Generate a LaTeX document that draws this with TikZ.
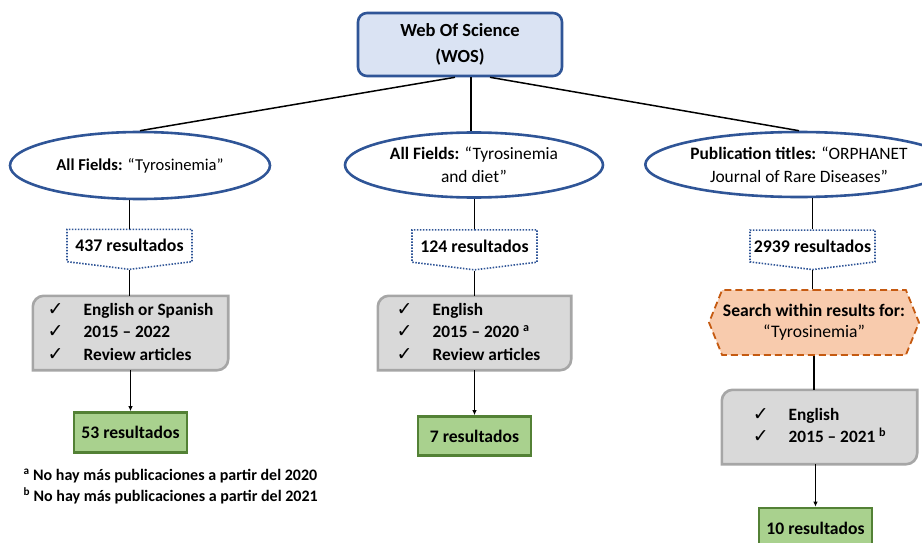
\documentclass[tikz,border=0pt]{standalone}
\usepackage{fontspec}
\setmainfont{Carlito}
\newfontfamily\checkfont{DejaVu Sans}
\usepackage {tikz}
\usetikzlibrary{positioning,shapes.geometric,shapes.symbols,arrows.meta,backgrounds}
\definecolor{wosblue}{HTML}{2F5597}
\definecolor{wosfill}{HTML}{DAE3F3}
\definecolor{grayfill}{HTML}{D9D9D9}
\definecolor{grayline}{HTML}{A6A6A6}
\definecolor{greenfill}{HTML}{A9D18E}
\definecolor{greenline}{HTML}{538135}
\definecolor{orangefill}{HTML}{F8CBAD}
\definecolor{orangeline}{HTML}{C55A11}
\newcommand{\chk}{{\checkfont\mdseries\fontsize{19}{19}\selectfont ✓}}

\begin{document}
\begin{tikzpicture}[x=1pt, y=1pt,
  wosnode/.style={rectangle, rounded corners=9pt, draw=wosblue, fill=wosfill, line width=2.6pt, minimum width=204pt, minimum height=63pt, align=center, font=\fontsize{18.5}{26}\selectfont\bfseries},
  fieldnode/.style={ellipse, draw=wosblue, line width=2.6pt, inner sep=0pt, align=center, font=\fontsize{17.4}{23}\selectfont},
  countnode/.style={signal, signal to=south, signal pointer angle=166, draw=wosblue, dash pattern=on 1.5pt off 1.5pt, line width=1.6pt, inner sep=0pt, minimum width=125pt, minimum height=39pt, font=\fontsize{17.8}{19}\selectfont\bfseries},
  filternode/.style={rectangle, inner sep=0pt, minimum width=195pt, minimum height=74pt, font=\fontsize{17.3}{22.5}\selectfont\bfseries},
  searchnode/.style={signal, signal to=west and east, signal pointer angle=136, draw=orangeline, fill=orangefill, dash pattern=on 7pt off 4pt, line width=1.8pt, inner sep=0pt, minimum width=210pt, minimum height=65pt, align=center, font=\fontsize{17.6}{21}\selectfont},
  resultnode/.style={rectangle, draw=greenline, fill=greenfill, line width=2.6pt, minimum width=113pt, minimum height=40pt, font=\fontsize{17.6}{19}\selectfont\bfseries},
  link/.style={line width=1.5pt},
  flow/.style={line width=1.5pt, -{Latex[length=5pt,width=4.5pt]}}]
    \useasboundingbox (0,0) rectangle (922,-543);
    % Nodes
    \node[wosnode] (wos) at (460,-44.5) {Web Of Science\\(WOS)};
    \node[fieldnode, font=\fontsize{16.6}{23}\selectfont, minimum width=260pt, minimum height=67pt] (f1) at (140,-165.5) {\textbf{All Fields:} “Tyrosinemia”};
    \node[fieldnode, minimum width=258pt, minimum height=65pt] (f2) at (474,-165) {\textbf{All Fields:} “Tyrosinemia\\and diet”};
    \node[fieldnode, minimum width=246pt, minimum height=65pt] (f3) at (799,-164.5) {\textbf{Publication titles:} “ORPHANET\\Journal of Rare Diseases”};
    \node[countnode] (c1) at (129.5,-245.5) {437 resultados};
    \node[countnode] (c2) at (474.5,-246) {124 resultados};
    \node[countnode] (c3) at (812.5,-246) {2939 resultados};
    \node[filternode] (filt1) at (130.5,-333) {\begin{tabular}{@{}l@{\hspace{20pt}}l@{}}\chk & English or Spanish\\ \chk & 2015 – 2022\\ \chk & Review articles\end{tabular}};
    \node[filternode, minimum width=193pt] (filt2) at (474.5,-333) {\hspace*{-12pt}\begin{tabular}{@{}l@{\hspace{20pt}}l@{}}\chk & English\\ \chk & 2015 – 2020 \textsuperscript{a}\\ \chk & Review articles\end{tabular}};
    \node[searchnode] (search) at (814,-322.5) {\textbf{Search within results for:}\\“Tyrosinemia”};
    \node[filternode] (filt3) at (819.5,-427) {\begin{tabular}{@{}l@{\hspace{20pt}}l@{}}\chk & English\\ \chk & 2015 – 2021 \textsuperscript{b}\end{tabular}};
    \node[resultnode] (r1) [below=41pt of filt1] {53 resultados};
    \node[resultnode, minimum height=39pt] (r2) [below=45pt of filt2] {7 resultados};
    \node[resultnode] (r3) at (815.5,-528) {10 resultados};
    \node[anchor=west, align=left, font=\fontsize{16}{21}\selectfont\bfseries] (notes) at (20,-486.5) {\textsuperscript{a} No hay más publicaciones a partir del 2020\\\textsuperscript{b} No hay más publicaciones a partir del 2021};
    % Filter boxes
    \begin{scope}[on background layer]
      \foreach \f in {filt1,filt2,filt3}
        \draw[draw=grayline, fill=grayfill, line width=2.6pt] ([yshift=-11pt]\f.north west) arc[start angle=180, end angle=90, radius=11pt] -- (\f.north east) -- ([yshift=11pt]\f.south east) arc[start angle=0, end angle=-90, radius=11pt] -- (\f.south west) -- cycle;
    \end{scope}
    % Lines
    \draw[link] ([xshift=-5pt]wos.south) -- (f1.north);
    \draw[link] ([xshift=11pt]wos.south) -- ([xshift=11pt]wos.south |- f2.north);
    \draw[link] ([xshift=30pt]wos.south) -- (f3.north);
    \draw[link] (c1 |- f1.south) -- (c1.north);
    \draw[link] (c2 |- f2.south) -- (c2.north);
    \draw[link] (c3 |- f3.south) -- (c3.north);
    \draw[link] (c1.south) -- (c1.south |- filt1.north);
    \draw[link] (c2.south) -- (c2.south |- filt2.north);
    \draw[link] (c3.south) -- (c3.south |- search.north);
    \draw[link] (search.south) -- (search.south |- filt3.north);
    \draw[flow] (r1.north |- filt1.south) -- (r1.north);
    \draw[flow] (r2.north |- filt2.south) -- (r2.north);
    \draw[flow] (r3.north |- filt3.south) -- (r3.north);
\end{tikzpicture}
\end{document}
